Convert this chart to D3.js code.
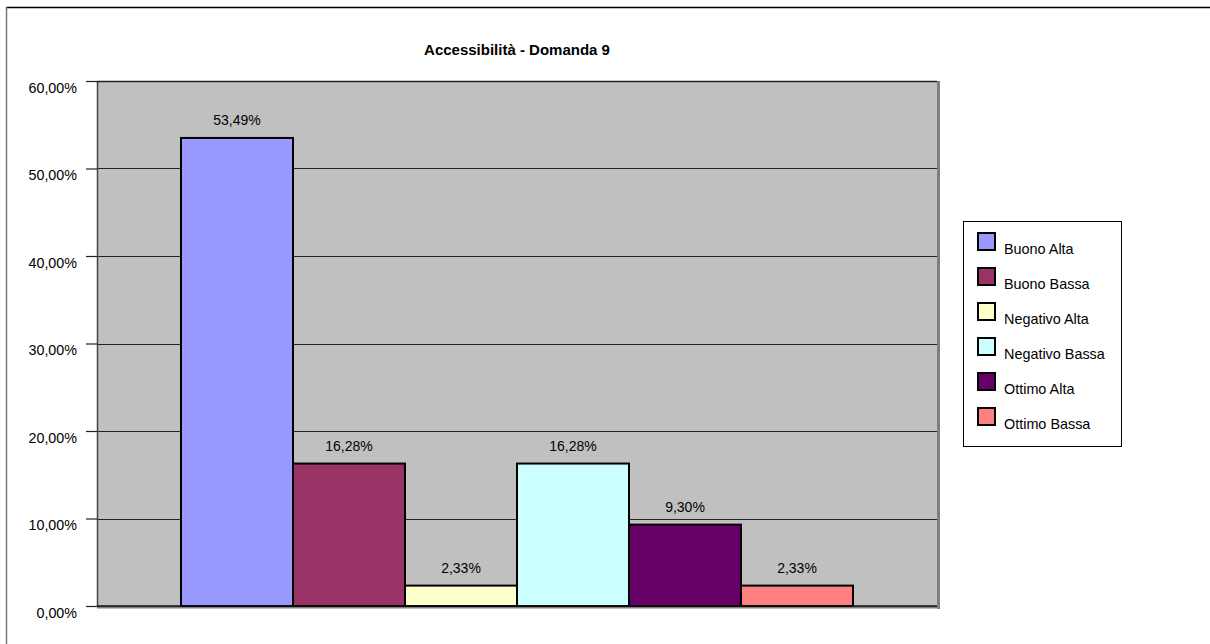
<!DOCTYPE html>
<html>
<head>
<meta charset="utf-8">
<script src="https://cdn.jsdelivr.net/npm/d3@7"></script>
<style>
  html, body { margin: 0; padding: 0; background: #fff; }
  svg { display: block; font-family: Arial, "Liberation Sans", sans-serif; }
</style>
</head>
<body>
<svg id="chart" width="1210" height="644"></svg>
<script>
// Accessibilità - Domanda 9: share of answers per rating / group
const titleText = "Accessibilità - Domanda 9";
const categories = ["Buono Alta", "Buono Bassa", "Negativo Alta", "Negativo Bassa", "Ottimo Alta", "Ottimo Bassa"];
const values = [53.49, 16.28, 2.33, 16.28, 9.30, 2.33];
const colors = ["#9999FF", "#993366", "#FFFFCC", "#CCFFFF", "#660066", "#FF8080"];
const yTicks = [0, 10, 20, 30, 40, 50, 60];

const fmt = v => v.toFixed(2).replace(".", ",") + "%";

const svg = d3.select("#chart");

// chart frame (top and left edges visible)
svg.append("line").attr("x1", 6).attr("x2", 1210).attr("y1", 7.5).attr("y2", 7.5)
  .attr("stroke", "#000").attr("stroke-width", 1.5);
svg.append("line").attr("x1", 6.5).attr("x2", 6.5).attr("y1", 7).attr("y2", 644)
  .attr("stroke", "#777").attr("stroke-width", 1.5);

const plot = { left: 97, top: 81, right: 937, bottom: 606 };

const x = d3.scaleBand()
  .domain(categories)
  .range([plot.left, plot.right])
  .paddingInner(0)
  .paddingOuter(0.75);

const y = d3.scaleLinear()
  .domain([0, 60])
  .range([plot.bottom, plot.top]);

// plot area background
svg.append("rect")
  .attr("x", plot.left).attr("y", plot.top)
  .attr("width", plot.right - plot.left).attr("height", plot.bottom - plot.top)
  .attr("fill", "#C0C0C0");

// shaded right / bottom border of plot area
svg.append("rect")
  .attr("x", plot.right).attr("y", plot.top)
  .attr("width", 3).attr("height", plot.bottom - plot.top + 3)
  .attr("fill", "#808080");
svg.append("rect")
  .attr("x", plot.left).attr("y", plot.bottom)
  .attr("width", plot.right - plot.left + 3).attr("height", 2.5)
  .attr("fill", "#808080");

// gridlines
svg.append("g")
  .selectAll("line")
  .data(yTicks.filter(t => t > 0))
  .join("line")
  .attr("x1", plot.left).attr("x2", plot.right)
  .attr("y1", d => Math.round(y(d)) + 0.5).attr("y2", d => Math.round(y(d)) + 0.5)
  .attr("stroke", "#222").attr("stroke-width", 1);

// left edge of plot area
svg.append("line")
  .attr("x1", plot.left + 0.5).attr("x2", plot.left + 0.5)
  .attr("y1", plot.top).attr("y2", plot.bottom)
  .attr("stroke", "#444").attr("stroke-width", 1.5);

// y axis
const yAxis = d3.axisLeft(y)
  .tickValues(yTicks)
  .tickSize(11)
  .tickPadding(9)
  .tickFormat(fmt);

const gy = svg.append("g")
  .attr("transform", `translate(${plot.left},0)`)
  .call(yAxis);
gy.select(".domain").remove();
gy.selectAll(".tick line").attr("stroke", "#222").attr("stroke-width", 1.2);
gy.selectAll(".tick text")
  .attr("fill", "#000")
  .attr("font-size", 14.3)
  .attr("font-family", "Arial, 'Liberation Sans', sans-serif")
  .attr("dy", "0.77em");

// bars
svg.append("g")
  .selectAll("rect")
  .data(values)
  .join("rect")
  .attr("x", (d, i) => x(categories[i]))
  .attr("y", d => y(d))
  .attr("width", x.bandwidth())
  .attr("height", d => y(0) - y(d))
  .attr("fill", (d, i) => colors[i])
  .attr("stroke", "#000")
  .attr("stroke-width", 2);

// top edge and baseline of plot area
svg.append("line")
  .attr("x1", plot.left).attr("x2", plot.right)
  .attr("y1", plot.top + 0.5).attr("y2", plot.top + 0.5)
  .attr("stroke", "#222").attr("stroke-width", 1.5);
svg.append("line")
  .attr("x1", plot.left).attr("x2", plot.right)
  .attr("y1", plot.bottom).attr("y2", plot.bottom)
  .attr("stroke", "#111").attr("stroke-width", 1.5);

// value labels
svg.append("g")
  .selectAll("text")
  .data(values)
  .join("text")
  .attr("x", (d, i) => x(categories[i]) + x.bandwidth() / 2)
  .attr("y", d => y(d) - 13)
  .attr("text-anchor", "middle")
  .attr("font-size", 14)
  .attr("fill", "#000")
  .text(fmt);

// title
svg.append("text")
  .attr("x", (plot.left + plot.right) / 2)
  .attr("y", 55)
  .attr("text-anchor", "middle")
  .attr("font-size", 15)
  .attr("font-weight", "bold")
  .attr("fill", "#000")
  .text(titleText);

// legend
const legend = svg.append("g").attr("transform", "translate(963,221)");
legend.append("rect")
  .attr("x", 0.5).attr("y", 0.5)
  .attr("width", 158).attr("height", 225)
  .attr("fill", "#fff")
  .attr("stroke", "#000").attr("stroke-width", 1);

const items = legend.selectAll("g.item")
  .data(categories)
  .join("g")
  .attr("class", "item")
  .attr("transform", (d, i) => `translate(0,${i * 35})`);

items.append("rect")
  .attr("x", 15).attr("y", 12)
  .attr("width", 17).attr("height", 17)
  .attr("fill", (d, i) => colors[i])
  .attr("stroke", "#000").attr("stroke-width", 2);

items.append("text")
  .attr("x", 41).attr("y", 33)
  .attr("font-size", 14.4)
  .attr("fill", "#000")
  .text(d => d);
</script>
</body>
</html>
